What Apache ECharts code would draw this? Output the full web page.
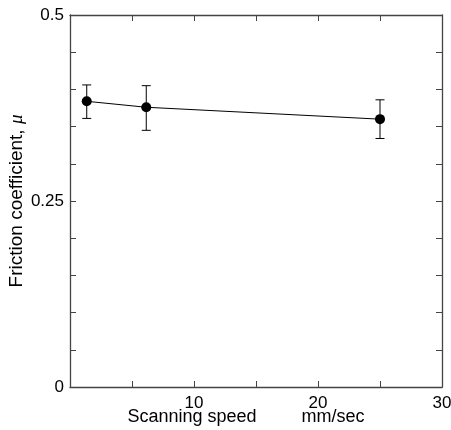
<!DOCTYPE html>
<html>
<head>
<meta charset="utf-8">
<script src="https://cdn.jsdelivr.net/npm/echarts@6/dist/echarts.min.js"></script>
<style>
  html, body { margin: 0; padding: 0; background: #fff; }
  #chart { width: 451px; height: 430px; }
</style>
</head>
<body>
<div id="chart"></div>
<script>
// scanning speed (mm/sec)
const speed = [1.35, 6.15, 25.0];
// friction coefficient mean and error bar ends
const mu = [0.384, 0.376, 0.360];
const muLow = [0.361, 0.345, 0.334];
const muHigh = [0.406, 0.405, 0.386];

const xLabels = ['10', '20', '30'];
const yLabels = ['0', '0.25', '0.5'];

const font = 'Arial, "Liberation Sans", sans-serif';
const axisColor = '#444';

const chart = echarts.init(document.getElementById('chart'));

const tickOnly = {
  axisLine: { show: true, onZero: false, lineStyle: { color: axisColor, width: 1.3 } },
  axisTick: { show: true, inside: true, length: 6, lineStyle: { color: axisColor, width: 1 } },
  axisLabel: { show: false },
  splitLine: { show: false }
};

const option = {
  animation: false,
  backgroundColor: '#fff',
  grid: { left: 70, right: 9, top: 15, bottom: 43, containLabel: false, outerBoundsMode: 'none' },
  xAxis: [
    {
      type: 'value', min: 0, max: 30, interval: 5,
      axisLine: { show: true, onZero: false, lineStyle: { color: axisColor, width: 1.3 } },
      axisTick: { show: true, inside: true, length: 6, lineStyle: { color: axisColor, width: 1 } },
      splitLine: { show: false },
      axisLabel: {
        color: '#000', fontFamily: font, fontSize: 17, margin: 8,
        formatter: v => (xLabels.includes(String(v)) ? String(v) : '')
      },
      name: 'Scanning speed         mm/sec',
      nameLocation: 'middle',
      nameGap: 21,
      nameMoveOverlap: false,
      nameTextStyle: { color: '#000', fontFamily: font, fontSize: 18, padding: [0, 0, 0, -20] }
    },
    Object.assign({ type: 'value', min: 0, max: 30, interval: 5, position: 'top' }, tickOnly)
  ],
  yAxis: [
    {
      type: 'value', min: 0, max: 0.5, interval: 0.05,
      axisLine: { show: true, onZero: false, lineStyle: { color: axisColor, width: 1.3 } },
      axisTick: { show: true, inside: true, length: 6, lineStyle: { color: axisColor, width: 1 } },
      splitLine: { show: false },
      axisLabel: {
        color: '#000', fontFamily: font, fontSize: 17, margin: 6,
        formatter: v => {
          const s = String(Math.round(v * 100) / 100);
          return yLabels.includes(s) ? s : '';
        }
      },
      name: 'Friction coefficient, {mu|μ}',
      nameLocation: 'middle',
      nameGap: 44,
      nameMoveOverlap: false,
      nameTextStyle: {
        color: '#000', fontFamily: font, fontSize: 19,
        rich: { mu: { fontStyle: 'italic', fontFamily: 'serif', fontSize: 19, color: '#000' } }
      }
    },
    Object.assign({ type: 'value', min: 0, max: 0.5, interval: 0.05, position: 'right' }, tickOnly)
  ],
  series: [
    {
      type: 'custom',
      z: 3,
      data: speed.map((s, i) => [s, muLow[i], muHigh[i]]),
      renderItem: (params, api) => {
        const lo = api.coord([api.value(0), api.value(1)]);
        const hi = api.coord([api.value(0), api.value(2)]);
        const w = 4.5;
        const st = { stroke: '#000', lineWidth: 1 };
        return {
          type: 'group',
          children: [
            { type: 'line', shape: { x1: lo[0], y1: lo[1], x2: hi[0], y2: hi[1] }, style: st },
            { type: 'line', shape: { x1: lo[0] - w, y1: lo[1], x2: lo[0] + w, y2: lo[1] }, style: st },
            { type: 'line', shape: { x1: hi[0] - w, y1: hi[1], x2: hi[0] + w, y2: hi[1] }, style: st }
          ]
        };
      }
    },
    {
      type: 'line',
      z: 4,
      data: speed.map((s, i) => [s, mu[i]]),
      symbol: 'circle',
      symbolSize: 10,
      itemStyle: { color: '#000' },
      lineStyle: { color: '#000', width: 1 }
    }
  ]
};

chart.setOption(option);
</script>
</body>
</html>
